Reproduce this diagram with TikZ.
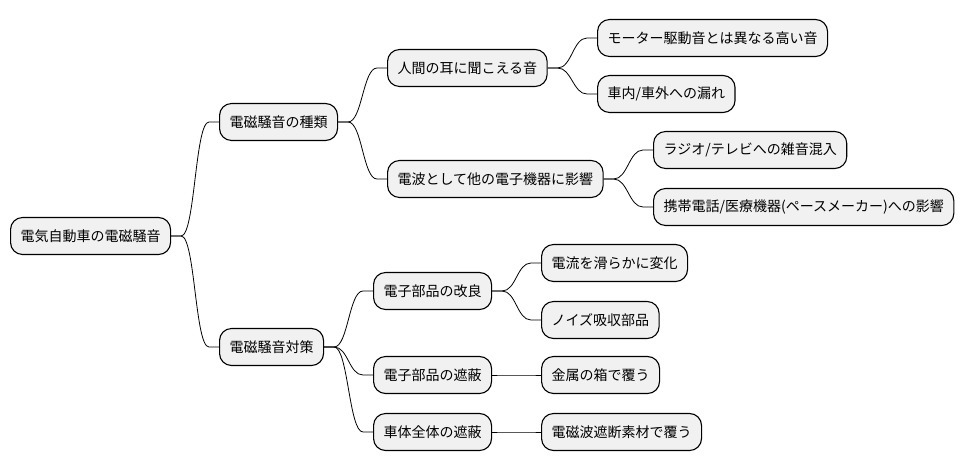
\documentclass[tikz,border=0pt]{standalone}
\usepackage{fontspec}
\newfontfamily\jpfont{Noto Sans CJK JP}
\usetikzlibrary{calc}
\definecolor{boxfill}{HTML}{F1F1F1}
\tikzset{
  topic/.style={draw=black,line width=1.1pt,fill=boxfill,rounded corners=12pt,
    anchor=west,minimum height=37pt,inner xsep=10pt,font=\jpfont\fontsize{14pt}{16pt}\selectfont},
  link/.style={line width=0.8pt}
}
\begin{document}
\begin{tikzpicture}[x=1pt,y=-1pt,line join=round]
  \useasboundingbox (0,0) rectangle (966,471);
  % tree nodes, left to right
  \node[topic] (root) at (10,236) {電気自動車の電磁騒音};
  \node[topic] (kind) at (219,122) {電磁騒音の種類};
  \node[topic] (ear) at (387,68) {人間の耳に聞こえる音};
  \node[topic] (high) at (597,38) {モーター駆動音とは異なる高い音};
  \node[topic] (leak) at (597,94) {車内/車外への漏れ};
  \node[topic] (wave) at (387,179) {電波として他の電子機器に影響};
  \node[topic] (radio) at (653,150) {ラジオ/テレビへの雑音混入};
  \node[topic] (phone) at (653,207) {携帯電話/医療機器(ペースメーカー)への影響};
  \node[topic] (meas) at (219,347) {電磁騒音対策};
  \node[topic] (impr) at (373,291) {電子部品の改良};
  \node[topic] (smooth) at (541,263) {電流を滑らかに変化};
  \node[topic] (absorb) at (541,320) {ノイズ吸収部品};
  \node[topic] (shpart) at (373,375) {電子部品の遮蔽};
  \node[topic] (metal) at (541,375) {金属の箱で覆う};
  \node[topic] (shbody) at (373,432) {車体全体の遮蔽};
  \node[topic] (cover) at (541,432) {電磁波遮断素材で覆う};
  % branches
  \foreach \from/\to in {root/kind,root/meas,kind/ear,kind/wave,ear/high,ear/leak,
      wave/radio,wave/phone,meas/impr,meas/shpart,meas/shbody,impr/smooth,impr/absorb,
      shpart/metal,shbody/cover}
    \draw[link] (\from.east) -- ++(10,0) .. controls +(14,0) and +(-14,0)
      .. ($(\to.west)+(-10,0)$) -- (\to.west);
\end{tikzpicture}
\end{document}
